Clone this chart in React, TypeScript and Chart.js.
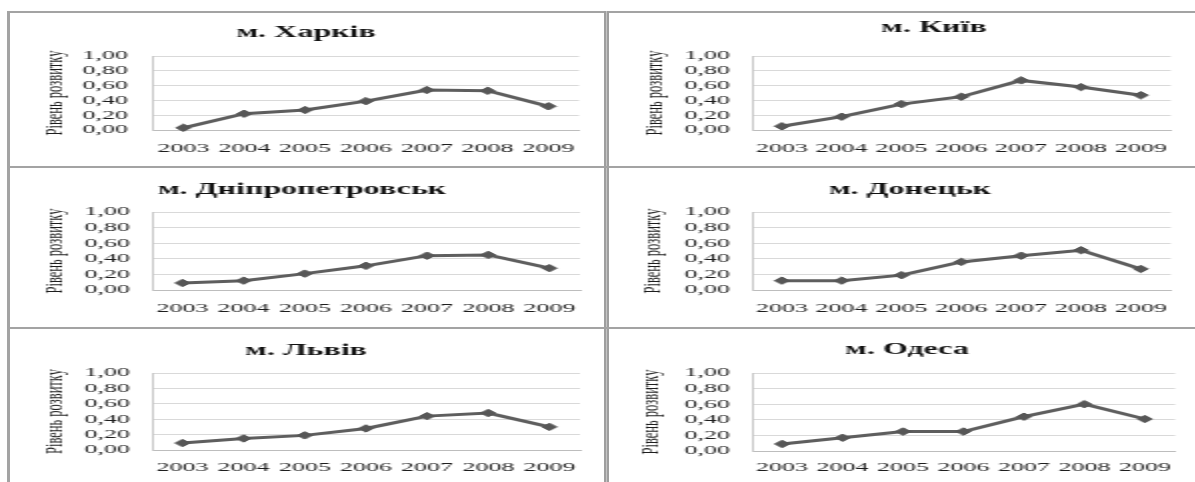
import React, { useEffect, useRef } from 'react';
import { Chart, registerables } from 'chart.js';

Chart.register(...registerables);

// ---------- data ----------
const years = ['2003', '2004', '2005', '2006', '2007', '2008', '2009'];
const kharkiv = [0.03, 0.22, 0.27, 0.39, 0.54, 0.53, 0.32];
const kyiv = [0.05, 0.18, 0.35, 0.45, 0.67, 0.58, 0.47];
const dnipro = [0.09, 0.12, 0.21, 0.31, 0.44, 0.45, 0.28];
const donetsk = [0.12, 0.12, 0.19, 0.36, 0.44, 0.51, 0.27];
const lviv = [0.09, 0.15, 0.19, 0.28, 0.44, 0.48, 0.3];
const odesa = [0.09, 0.17, 0.25, 0.25, 0.44, 0.6, 0.41];
const yMin = 0;
const yMax = 1;
const yStep = 0.2;
const axisTitle = 'Рівень розвитку';

// ---------- layout (page coordinates) ----------
const S = 2; // horizontal stretch of the original picture
const FONT = "'Liberation Serif', 'Times New Roman', serif";
const TICK_SIZE = 13;

type PanelGeom = {
  title: string;
  data: number[];
  left: number; top: number; width: number; height: number;
  chartLeft: number; chartRight: number; chartTop: number; chartBottom: number;
  tickRight: number; axisTitleX: number; titleX: number; titleY: number; labelY: number;
};

const panels: PanelGeom[] = [
  { title: 'м. Харків', data: kharkiv, left: 10, top: 13, width: 594, height: 153,
    chartLeft: 153, chartRight: 579, chartTop: 56, chartBottom: 130,
    tickRight: 128, axisTitleX: 56, titleX: 306, titleY: 33, labelY: 149 },
  { title: 'м. Київ', data: kyiv, left: 610, top: 13, width: 580, height: 153,
    chartLeft: 752, chartRight: 1180, chartTop: 56, chartBottom: 130,
    tickRight: 730, axisTitleX: 656, titleX: 934, titleY: 28, labelY: 149 },
  { title: 'м. Дніпропетровськ', data: dnipro, left: 10, top: 169, width: 594, height: 158,
    chartLeft: 152, chartRight: 580, chartTop: 212, chartBottom: 290,
    tickRight: 130, axisTitleX: 55, titleX: 302, titleY: 190, labelY: 309 },
  { title: 'м. Донецьк', data: donetsk, left: 610, top: 169, width: 580, height: 158,
    chartLeft: 752, chartRight: 1185, chartTop: 212, chartBottom: 290,
    tickRight: 730, axisTitleX: 653, titleX: 910, titleY: 190, labelY: 309 },
  { title: 'м. Львів', data: lviv, left: 10, top: 330, width: 594, height: 152,
    chartLeft: 152, chartRight: 580, chartTop: 373, chartBottom: 450,
    tickRight: 130, axisTitleX: 55, titleX: 306, titleY: 351, labelY: 468 },
  { title: 'м. Одеса', data: odesa, left: 610, top: 330, width: 580, height: 152,
    chartLeft: 752, chartRight: 1185, chartTop: 373, chartBottom: 451,
    tickRight: 730, axisTitleX: 652, titleX: 907, titleY: 350, labelY: 468 },
];

const titleShift = {
  id: 'titleShift',
  afterLayout(chart: any, _args: any, opts: any) {
    const tb = chart.titleBlock;
    if (!tb || opts == null || opts.x == null) return;
    const half = (tb.right - tb.left) / 2;
    tb.left = opts.x - half;
    tb.right = opts.x + half;
  },
};

function ChartPanel({ p }: { p: PanelGeom }) {
  const ref = useRef<HTMLCanvasElement | null>(null);
  const w = Math.round(p.width / S);
  const h = p.height;

  useEffect(() => {
    if (!ref.current) return;
    const cx = (x: number) => (x - p.left) / S;
    const cy = (y: number) => y - p.top;
    const chartLeft = cx(p.chartLeft);
    const chartRight = cx(p.chartRight);
    const chartTop = cy(p.chartTop);
    const chartBottom = cy(p.chartBottom);
    const tickPad = chartLeft - cx(p.tickRight);
    const axisTitleSize = 12.5;
    const axisTitlePad = cx(p.axisTitleX) - (axisTitleSize * 1.2) / 2;
    const titleSize = 16;
    const titleLH = titleSize * 1.2;
    const titleCenter = cy(p.titleY);
    const tPadTop = titleCenter - titleLH / 2;
    const tPadBottom = chartTop - titleCenter - titleLH / 2;
    const tickLH = TICK_SIZE * 1.2;
    const xPad = cy(p.labelY) - chartBottom - tickLH / 2;
    const xH = xPad + tickLH;
    const padBottom = Math.max(0, h - chartBottom - xH);
    const padRight = w - chartRight;

    const chart = new Chart(ref.current, {
      type: 'line',
      data: {
        labels: years,
        datasets: [
          {
            data: p.data,
            borderColor: '#5e5e5e',
            borderWidth: 3,
            pointStyle: 'rectRot',
            pointRadius: 3.7,
            pointBackgroundColor: '#575757',
            pointBorderColor: '#575757',
            pointBorderWidth: 1,
            tension: 0,
            clip: false,
          } as any,
        ],
      },
      plugins: [titleShift as any],
      options: {
        animation: false,
        responsive: false,
        events: [],
        layout: { padding: { left: 0, right: padRight, top: 0, bottom: padBottom } },
        plugins: {
          legend: { display: false },
          tooltip: { enabled: false },
          title: {
            display: true,
            text: p.title,
            color: '#111',
            font: { family: FONT, size: titleSize, weight: 'bold', lineHeight: 1.2 },
            padding: { top: tPadTop, bottom: tPadBottom },
          },
          titleShift: { x: cx(p.titleX) },
        } as any,
        scales: {
          x: {
            offset: true,
            grid: { display: false, drawTicks: false },
            border: { display: true, color: '#bdbdbd', width: 1 },
            ticks: {
              padding: xPad,
              color: '#1e1e1e',
              font: { family: FONT, size: TICK_SIZE, lineHeight: 1.2 },
              maxRotation: 0,
              autoSkip: false,
            },
            afterFit: (scale: any) => {
              scale.height = xH;
            },
          },
          y: {
            min: yMin,
            max: yMax,
            ticks: {
              stepSize: yStep,
              autoSkip: false,
              padding: tickPad,
              color: '#1e1e1e',
              font: { family: FONT, size: TICK_SIZE, lineHeight: 1.2 },
              callback: (v: any) => Number(v).toFixed(2).replace('.', ','),
            },
            grid: { color: '#d9d9d9', drawTicks: false, lineWidth: 1 },
            border: { display: true, color: '#c8c8c8', width: 1 },
            title: {
              display: true,
              text: axisTitle,
              color: '#1e1e1e',
              font: { family: FONT, size: axisTitleSize, lineHeight: 1.2 },
              padding: { top: axisTitlePad, bottom: 0 },
            },
            afterFit: (scale: any) => {
              scale.width = chartLeft;
            },
          },
        },
      },
    });
    return () => chart.destroy();
  }, [p, w, h]);

  return (
    <div
      style={{
        position: 'absolute',
        left: p.left,
        top: p.top,
        width: w,
        height: h,
        transform: `scaleX(${p.width / w})`,
        transformOrigin: '0 0',
      }}
    >
      <canvas ref={ref} width={w} height={h} style={{ display: 'block', width: w, height: h }} />
    </div>
  );
}

const lineColor = '#a3a3a3';

export default function App() {
  return (
    <div
      style={{
        position: 'fixed',
        left: 0,
        top: 0,
        width: 1195,
        height: 482,
        overflow: 'hidden',
        background: '#fff',
      }}
    >
      {panels.map((p) => (
        <ChartPanel key={p.title} p={p} />
      ))}
      <div style={{ position: 'absolute', left: 1189, top: 0, width: 6, height: 482, background: '#fff' }} />
      <div style={{ position: 'absolute', left: 7, top: 11, width: 1188, height: 2, background: lineColor }} />
      <div style={{ position: 'absolute', left: 7, top: 11, width: 3, height: 471, background: lineColor }} />
      <div style={{ position: 'absolute', left: 604, top: 11, width: 5, height: 471, background: '#9e9e9e' }} />
      <div style={{ position: 'absolute', left: 606, top: 11, width: 1, height: 471, background: '#c4c4c4' }} />
      <div style={{ position: 'absolute', left: 7, top: 166, width: 1188, height: 2, background: lineColor }} />
      <div style={{ position: 'absolute', left: 7, top: 327, width: 1188, height: 2, background: lineColor }} />
    </div>
  );
}
